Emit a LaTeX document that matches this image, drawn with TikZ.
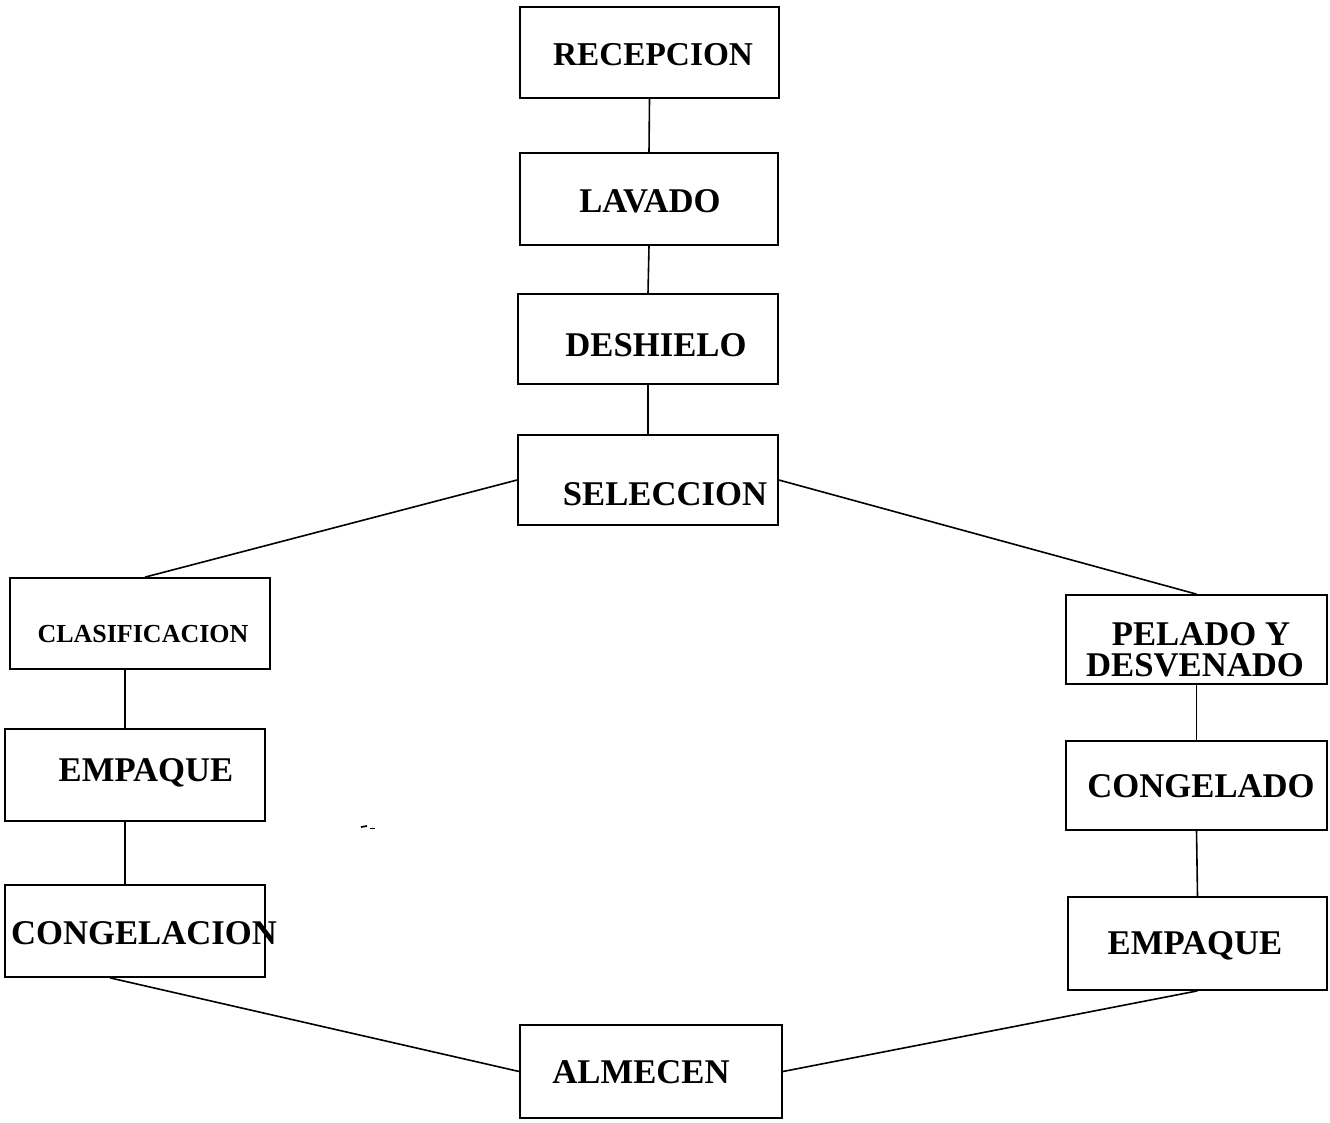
\documentclass[tikz,border=0pt]{standalone}
\usepackage{fontspec}
\setmainfont{Liberation Serif}
\begin{document}
\begin{tikzpicture}[x=0.75pt,y=-0.75pt,
  stepbox/.style={draw,line width=1.3pt,rectangle,inner sep=0pt},
  steptext/.style={inner sep=0pt,font=\bfseries\fontsize{26}{22}\selectfont},
  smalltext/.style={inner sep=0pt,font=\bfseries\fontsize{19.5}{20}\selectfont},
  link/.style={line width=1.2pt}]
\useasboundingbox (0,0) rectangle (1330,1123);

% boxes of the process chart
\node[stepbox,minimum width=194.25pt,minimum height=68.25pt] (rec) at (649.5,52.5) {};
\node[stepbox,minimum width=193.5pt,minimum height=69pt]   (lav) at (649,199) {};
\node[stepbox,minimum width=195pt,minimum height=67.5pt]   (des) at (648,339) {};
\node[stepbox,minimum width=195pt,minimum height=67.5pt]   (sel) at (648,480) {};
\node[stepbox,minimum width=195pt,minimum height=68.25pt]  (cla) at (140,623.5) {};
\node[stepbox,minimum width=195pt,minimum height=69pt]     (empL) at (135,775) {};
\node[stepbox,minimum width=195pt,minimum height=69pt]     (cong) at (135,931) {};
\node[stepbox,minimum width=196.5pt,minimum height=69.75pt] (alm) at (651,1071.5) {};
\node[stepbox,minimum width=195.75pt,minimum height=66.75pt] (pel) at (1196.5,639.5) {};
\node[stepbox,minimum width=195.75pt,minimum height=66.75pt] (cgd) at (1196.5,785.5) {};
\node[stepbox,minimum width=194.25pt,minimum height=69.75pt] (empR) at (1197.5,943.5) {};

% labels
\node[steptext,font=\bfseries\fontsize{25}{22}\selectfont] (trec) at (653,55) {RECEPCION};
\node[steptext] (tlav) at (650,201) {LAVADO};
\node[steptext] (tdes) at (656,345) {DESHIELO};
\node[steptext] (tsel) at (665,494) {SELECCION};
\node[smalltext] (tcla) at (143,634) {CLASIFICACION};
\node[steptext] (tempL) at (146,773) {EMPAQUE};
\node[steptext] (tcong) at (144,933) {CONGELACION};
\node[steptext] (talm) at (641,1072) {ALMECEN};
\node[steptext,anchor=base] (tpel1) at (1201,645) {PELADO Y};
\node[steptext,anchor=base] (tpel2) at (1195,676) {DESVENADO};
\node[steptext] (tcgd) at (1201,786) {CONGELADO};
\node[steptext] (tempR) at (1195,946) {EMPAQUE};

% connectors
\coordinate (lx) at (125,0);
\coordinate (cx) at (110,0);
\draw[link] (rec.south) -- (lav.north);
\draw[link] (lav.south) -- (des.north);
\draw[link] (des.south) -- (sel.north);
\draw[link] (sel.west) -- ([xshift=3.75pt]cla.north);
\draw[link] (sel.east) -- (pel.north);
\draw[link] (cla.south -| lx) -- (empL.north -| lx);
\draw[link] (empL.south -| lx) -- (cong.north -| lx);
\draw[link] (cong.south -| cx) -- (alm.west);
\draw[link] (alm.east) -- (empR.south);
\draw[link] (pel.south) -- (cgd.north);
\draw[link] (cgd.south) -- (empR.north);

% small stray strokes
\coordinate (m1) at (361,827);
\coordinate (m2) at (367,826);
\coordinate (m3) at (370,828.5);
\coordinate (m4) at (375,828.5);
\draw[line width=1.3pt] (m1) -- (m2);
\draw[line width=1.1pt] (m3) -- (m4);
\end{tikzpicture}
\end{document}
